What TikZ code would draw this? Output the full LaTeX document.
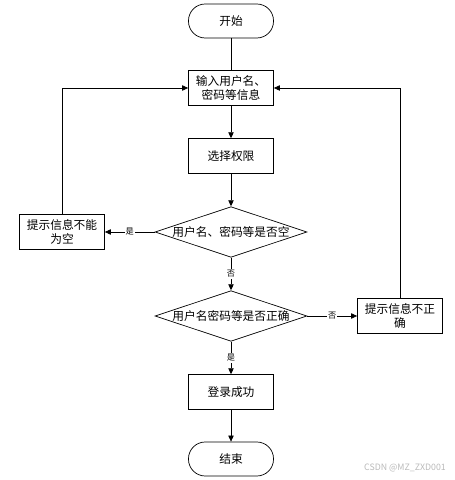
\documentclass[tikz,border=0pt]{standalone}
\usepackage{fontspec}
\newfontfamily\cjk{Noto Sans CJK SC}
\usepackage{tikz}
\usetikzlibrary{arrows.meta}
\usetikzlibrary{shapes.geometric}

\begin{document}
\begin{tikzpicture}[line width=0.6pt,
    font=\cjk\fontsize{10pt}{12pt}\selectfont,
    terminal/.style={draw, rounded corners=0.5cm, minimum width=2.55cm, minimum height=1.02cm, inner sep=0pt},
    process/.style={draw, align=center, minimum width=2.55cm, minimum height=1.04cm, inner sep=1pt},
    decision/.style={draw, diamond, minimum width=4.55cm, minimum height=1.52cm, inner sep=0pt},
    flow/.style={-{Triangle[length=1.8mm,width=1.6mm]}},
    answer/.style={fill=white, inner sep=1pt, font=\cjk\fontsize{7pt}{8pt}\selectfont}]
    \useasboundingbox (0,0) rectangle (13.65,14.4);

    \node[terminal] (start) at (6.93,13.77) {开始};
    \node[process] (input) at (6.93,11.76) {输入用户名、\\密码等信息};
    \node[process] (choose) at (6.93,9.72) {选择权限};
    \node[decision] (empty) at (6.93,7.44) {\makebox[0pt]{用户名、密码等是否空}};
    \node[process] (emptymsg) at (1.86,7.44) {提示信息不能\\为空};
    \node[decision] (check) at (6.93,4.92) {\makebox[0pt]{用户名密码等是否正确}};
    \node[process] (wrongmsg) at (12.0,4.92) {提示信息不正\\确};
    \node[process] (success) at (6.93,2.64) {登录成功};
    \node[terminal] (stop) at (6.93,0.63) {结束};

    \draw (start) -- (input);
    \draw[flow] (input) -- (choose);
    \draw[flow] (choose) -- (empty);
    \draw[flow] (empty) -- node[answer] {是} (emptymsg);
    \draw[flow] (empty) -- node[answer] {否} (check);
    \draw[flow] (check) -- node[answer] {否} (wrongmsg);
    \draw[flow] (check) -- node[answer] {是} (success);
    \draw[flow] (success) -- (stop);
    \draw[flow] (emptymsg.north) |- (input.west);
    \draw[flow] (wrongmsg.north) |- (input.east);

    \node[text=gray!55, font=\cjk\fontsize{7.5pt}{9pt}\selectfont] (mark) at (12.15,0.36) {CSDN @MZ\_ZXD001};
\end{tikzpicture}
\end{document}
